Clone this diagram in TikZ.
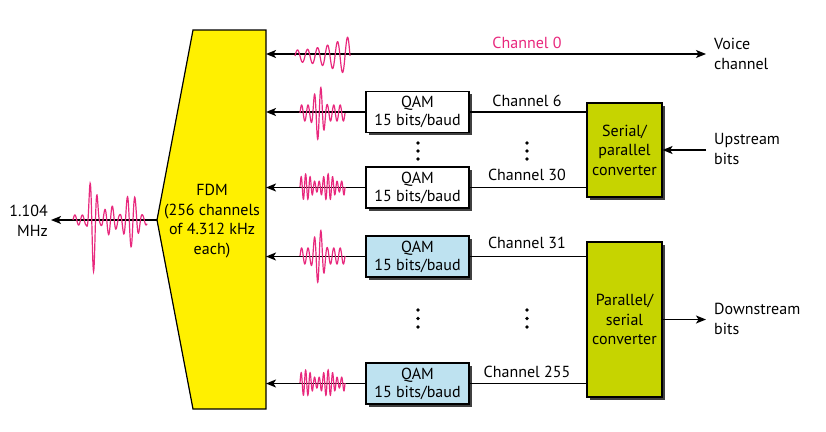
\documentclass[tikz,border=0pt]{standalone}
\usepackage{fontspec}
\setmainfont{PT Sans}
\usetikzlibrary{arrows.meta,shadows}
\definecolor{fdmyellow}{RGB}{255,240,0}
\definecolor{convgreen}{RGB}{198,212,0}
\definecolor{qamblue}{RGB}{190,226,240}
\definecolor{wavepink}{RGB}{232,40,125}
\begin{document}
\begin{tikzpicture}[x=1pt,y=-1pt,
  every node/.style={font=\fontsize{16}{19.5}\selectfont, inner sep=0pt},
  arr/.style={line width=1.4pt,-{Stealth[length=10pt,width=8pt,inset=2.5pt]}},
  conn/.style={line width=1.4pt},
  shad/.style={drop shadow={shadow xshift=2.5pt,shadow yshift=-2.5pt,fill=black!75,opacity=1}},
  qambox/.style={draw,line width=1.1pt,fill=white,minimum width=103pt,minimum height=41pt,align=center,font=\fontsize{16}{18}\selectfont,shad},
  qamblu/.style={qambox,fill=qamblue},
  convbox/.style={draw,line width=1.1pt,fill=convgreen,minimum width=75pt,align=center,shad},
  wave/.style={wavepink,line width=1.2pt,smooth,samples=260},
  lbl/.style={align=left,anchor=west},
  dotc/.style={fill=black,circle,minimum size=3.8pt},
  declare function={bmp(\t,\c,\w)=max(0,1-((\t-\c)/\w)^2)^2;}
]
\useasboundingbox (0,0) rectangle (826,431);
% FDM block
\coordinate (fnw) at (193,30);
\coordinate (fne) at (266,30);
\coordinate (fse) at (266,409);
\coordinate (fsw) at (193,409);
\coordinate (ftip) at (157,220);
\filldraw[fill=fdmyellow,draw=black,line width=1.2pt] (fnw) -- (fne) -- (fse) -- (fsw) -- (ftip) -- cycle;
\node[align=center] (fdm) at (212,221) {FDM\\(256 channels\\of 4.312 kHz\\each)};
% QAM boxes
\node[qambox] (q6) at (417.5,112) {QAM\\15 bits/baud};
\node[qambox] (q30) at (417.5,187.5) {QAM\\15 bits/baud};
\node[qamblu] (q31) at (417.5,256.5) {QAM\\15 bits/baud};
\node[qamblu] (q255) at (417.5,383.5) {QAM\\15 bits/baud};
% converters
\node[convbox,minimum height=94pt] (sp) at (624.5,150) {Serial/\\parallel\\converter};
\node[convbox,minimum height=155pt] (ps) at (624.5,319.5) {Parallel/\\serial\\converter};
% right labels
\node[lbl] (voice) at (714,54) {Voice\\channel};
\node[lbl] (up) at (714,149) {Upstream\\bits};
\node[lbl] (down) at (714,319) {Downstream\\bits};
\node[align=right,anchor=east] (mhz) at (48,221) {1.104\\MHz};
\coordinate (voiceend) at (706,54);
\coordinate (upstart) at (706,150);
\coordinate (downend) at (706,319.5);
\coordinate (outend) at (51,220);
% connectors
\draw[arr] (ftip) -- (outend);
\draw[conn,{Stealth[length=10pt,width=8pt,inset=2.5pt]}-{Stealth[length=10pt,width=8pt,inset=2.5pt]}] (fne |- voiceend) -- (voiceend);
\foreach \q in {q6,q30,q31,q255}{
  \draw[arr] (\q.west) -- (\q.west -| fne);
}
\draw[conn] (q6.east) -- (q6.east -| sp.west);
\draw[conn] (q30.east) -- (q30.east -| sp.west);
\draw[conn] (q31.east) -- (q31.east -| ps.west);
\draw[conn] (q255.east) -- (q255.east -| ps.west);
\draw[arr] (upstart) -- (sp.east |- upstart);
\draw[arr] (ps.east |- downend) -- (downend);
% channel labels
\node[text=wavepink] (c0) at (527,43) {Channel 0};
\node (c6) at (527,101) {Channel 6};
\node (c30) at (527,175) {Channel 30};
\node (c31) at (527,243) {Channel 31};
\node (c255) at (527,372) {Channel 255};
% dots
\foreach \xx in {418,527}{
  \foreach \yy in {143,151,159,310,318.5,327}{
    \node[dotc] at (\xx,\yy) {};
  }
}
% waves
\draw[wave,domain=73:147] plot (\x,{220-(5+47*bmp(\x,93,7)+22*bmp(\x,131,12)+10*bmp(\x,110,10))*sin((\x-73)*48)});
\draw[wave,domain=295:350] plot (\x,{56-(6+14*((\x-295)/55)^2)*sin((\x-295)*36)});
\foreach \cy in {113,256}{
  \draw[wave,domain=300:345] plot (\x,{\cy-(8+19*bmp(\x,319,9))*sin((\x-300)*56)});
}
\foreach \cy in {187,383}{
  \draw[wave,domain=300:345] plot (\x,{\cy-(9+4*sin((\x-300)*16))*sin((\x-300)*80)});
}
\end{tikzpicture}
\end{document}
